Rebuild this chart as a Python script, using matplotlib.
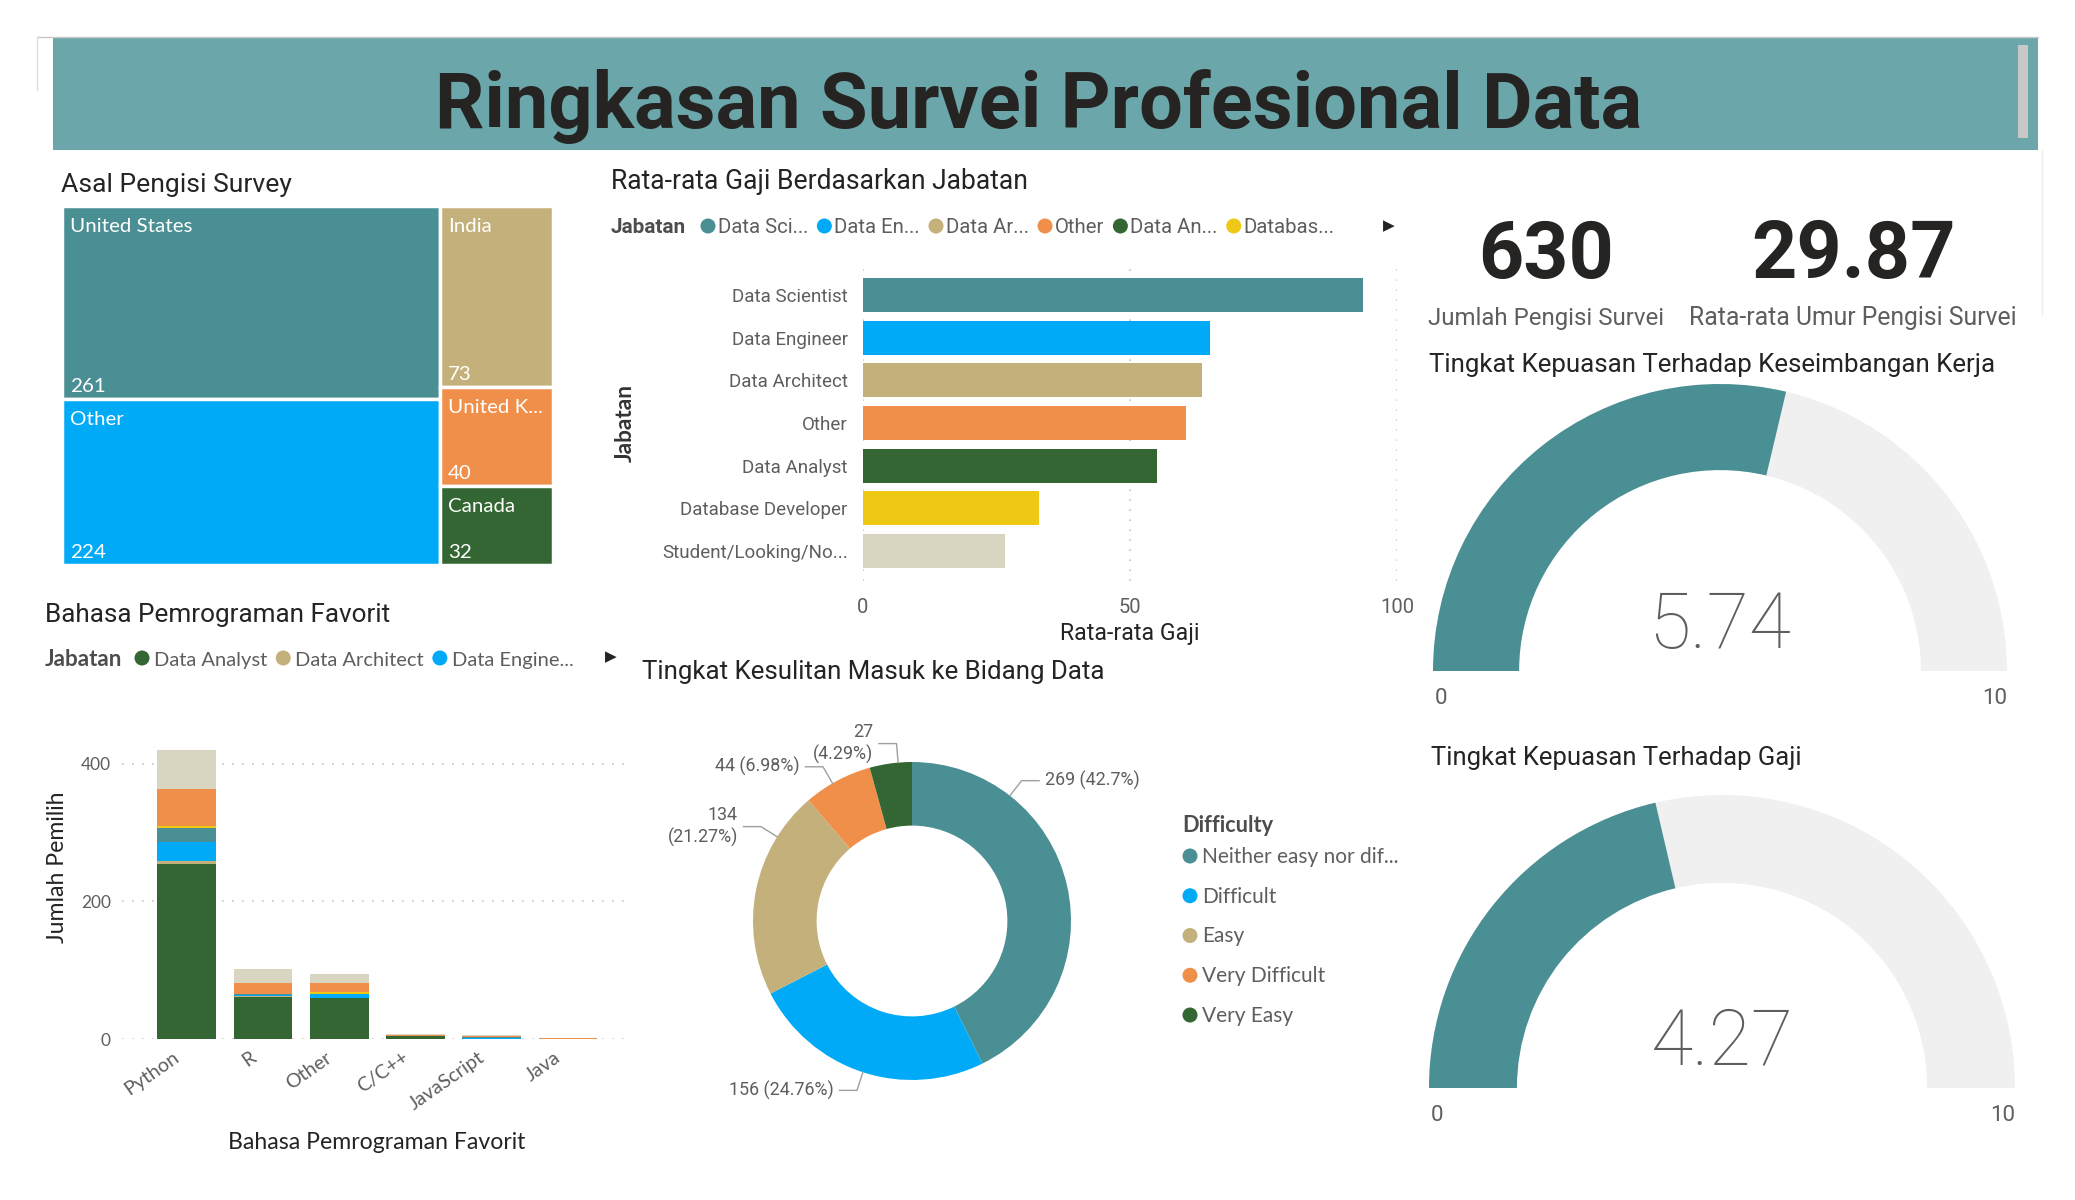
import matplotlib
matplotlib.use("Agg")
import matplotlib.pyplot as plt
from matplotlib.patches import Rectangle, Wedge, Circle
import matplotlib.transforms as mtransforms
import numpy as np

# ---------------- data ----------------
dashboard_title = "Ringkasan Survei Profesional Data"

country_title = "Asal Pengisi Survey"
country_names = ["United States", "Other", "India", "United K...", "Canada"]
country_counts = [261, 224, 73, 40, 32]

salary_title = "Rata-rata Gaji Berdasarkan Jabatan"
job_titles = ["Data Scientist", "Data Engineer", "Data Architect", "Other",
              "Data Analyst", "Database Developer", "Student/Looking/No..."]
avg_salary = [93.6, 64.9, 63.5, 60.4, 55.1, 33.0, 26.5]
salary_legend = ["Data Sci...", "Data En...", "Data Ar...", "Other", "Data An...", "Databas..."]
salary_ticks = [0, 50, 100]

lang_title = "Bahasa Pemrograman Favorit"
languages = ["Python", "R", "Other", "C/C++", "JavaScript", "Java"]
lang_data_analyst = [254, 61, 59, 4, 0, 0]
lang_data_architect = [4, 1, 1, 0, 0, 0]
lang_data_engineer = [28, 2, 5, 0, 2, 0]
lang_data_scientist = [20, 2, 1, 1, 1, 0]
lang_database_dev = [4, 0, 2, 0, 0, 0]
lang_other = [53, 15, 14, 1, 1, 1]
lang_student = [57, 20, 12, 1, 2, 1]
lang_legend = ["Data Analyst", "Data Architect", "Data Engine..."]
lang_ticks = [0, 200, 400]

difficulty_title = "Tingkat Kesulitan Masuk ke Bidang Data"
difficulty_legend = ["Neither easy nor dif...", "Difficult", "Easy", "Very Difficult", "Very Easy"]
difficulty_counts = [269, 156, 134, 44, 27]

respondents = 630
avg_age = 29.87
kpi_labels = ["Jumlah Pengisi Survei", "Rata-rata Umur Pengisi Survei"]

gauge_titles = ["Tingkat Kepuasan Terhadap Keseimbangan Kerja", "Tingkat Kepuasan Terhadap Gaji"]
gauge_values = [5.74, 4.27]
gauge_min, gauge_max = 0, 10

# ---------------- style ----------------
W, H = 2075, 1200
DIN = ['Liberation Sans Narrow', 'Roboto', 'DejaVu Sans']
SEG = ['Lato', 'Noto Sans', 'DejaVu Sans']
DARK = '#252423'
GRAY = '#605e5c'
LEGT = '#4d4d4d'
GRID = '#c8c6c4'
TEAL = '#4a8f93'
BLUE = '#01aaf7'
TAN = '#c4b07b'
ORANGE = '#f08f4a'
GREEN = '#336633'
YELLOW = '#efc815'
BEIGE = '#d8d6c0'

plt.rcParams['font.family'] = SEG
fig = plt.figure(figsize=(W / 100, H / 100), dpi=100)
fig.patch.set_facecolor('white')
REND = fig.canvas.get_renderer()


def axpx(x0, y0, x1, y1):
    return fig.add_axes([x0 / W, 1 - y1 / H, (x1 - x0) / W, (y1 - y0) / H])


def size_for(s, fam, w, weight='normal'):
    t = fig.text(0, 0, s, fontsize=20, family=fam, weight=weight)
    bw = t.get_window_extent(REND).width
    t.remove()
    return 20 * w / bw


def txt(x, y, s, fam=DIN, w=None, size=12, weight='normal', color=DARK,
        ha='left', va='baseline', scale=1.0, **kw):
    if w is not None:
        size = size_for(s, fam, w, weight) * scale
    return fig.text(x / W, 1 - y / H, s, family=fam, fontsize=size, weight=weight,
                    color=color, ha=ha, va=va, **kw)


# background overlay (pixel coordinates)
bg = axpx(0, 0, W, H)
bg.set_xlim(0, W)
bg.set_ylim(H, 0)
bg.axis('off')
bg.add_patch(Rectangle((53, 37), 1985, 113, facecolor='#6aa6aa', lw=0))
bg.plot([37, 2038], [37, 37], color='#c8c8c8', lw=1)
bg.plot([37, 37], [37, 90], color='#dddddd', lw=1)
bg.add_patch(Rectangle((2018, 45), 10, 93, facecolor='#c8c8c8', lw=0))
bg.plot([2042, 2042], [150, 315], color='#eeeeee', lw=1)

txt(1039, 128, dashboard_title, DIN, w=1204, weight='bold', ha='center', scale=1.0)

# ---------------- treemap ----------------
txt(61, 192, country_title, DIN, w=230)
tm_colors = [TEAL, BLUE, TAN, ORANGE, GREEN]
tm_columns = [[0, 1], [2, 3, 4]]
ax = axpx(62, 206, 553, 565)
ax.set_xlim(0, 1)
ax.set_ylim(1, 0)
ax.axis('off')
tm_size = size_for("United States", SEG, 122)
total = sum(country_counts)
x0 = 0.0
for col in tm_columns:
    colsum = sum(country_counts[i] for i in col)
    cw = colsum / total
    y0 = 0.0
    for i in col:
        h = country_counts[i] / colsum
        ax.add_patch(Rectangle((x0, y0), cw, h, facecolor=tm_colors[i],
                               edgecolor='white', lw=2.5))
        ax.annotate(country_names[i], (x0, y0), xytext=(8, -26), textcoords='offset pixels',
                    ha='left', va='baseline', color='white', fontsize=tm_size, family=SEG)
        ax.annotate(str(country_counts[i]), (x0, y0 + h), xytext=(8, 7), textcoords='offset pixels',
                    ha='left', va='baseline', color='white', fontsize=tm_size, family=SEG)
        y0 += h
    x0 += cw

# ---------------- salary bar chart ----------------
job_colors = [TEAL, BLUE, TAN, ORANGE, GREEN, YELLOW, BEIGE]
txt(611, 189, salary_title, DIN, w=417)
txt(611, 233, "Jabatan", DIN, w=75, weight='bold', color=LEGT)
leg_size = size_for("Data Sci...", DIN, 91)
xc = 701
for lab, c in zip(salary_legend, job_colors):
    bg.add_patch(Circle((xc + 7, 226), 7.5, facecolor=c, lw=0))
    t = txt(xc + 17, 233, lab, DIN, size=leg_size, color=GRAY)
    xc = t.get_window_extent(REND).x1 + 9
txt(1389, 226, "\u25B6", ['DejaVu Sans'], size=11, ha='center', va='center', color=DARK)

ax = axpx(863, 265, 1397, 581)
yy = np.arange(len(job_titles))
ax.barh(yy, avg_salary, height=0.8, color=job_colors, zorder=2)
ax.set_ylim(len(job_titles) - 1 + 0.7, -0.7)
ax.set_xlim(0, 100)
ax.set_xticks(salary_ticks)
ax.set_yticks(yy, job_titles)
for s in ax.spines.values():
    s.set_visible(False)
ax.grid(axis='x', linestyle=(0, (1, 5)), color=GRID, lw=1.2, zorder=0)
ax.grid(axis='y', visible=False)
ytick_size = size_for("Database Developer", DIN, 167)
xtick_size = size_for("100", DIN, 34)
ax.tick_params(axis='y', length=0, pad=11, labelsize=ytick_size, labelcolor=GRAY)
ax.tick_params(axis='x', length=0, pad=12, labelsize=xtick_size, labelcolor=GRAY)
for lbl in ax.get_xticklabels() + ax.get_yticklabels():
    lbl.set_family(DIN)
txt(1130, 640, "Rata-rata Gaji", DIN, w=139, ha='center')
txt(625, 423, "Jabatan", SEG, w=78, weight='bold', rotation=90, ha='center', va='center', color='#333333')

# ---------------- language stacked bar ----------------
txt(45, 622, lang_title, DIN, w=345)
txt(45, 666, "Jabatan", SEG, w=77, weight='bold', color=LEGT)
leg2_size = size_for("Data Analyst", SEG, 114)
leg2_colors = [GREEN, TAN, BLUE]
xc = 135
for lab, c in zip(lang_legend, leg2_colors):
    bg.add_patch(Circle((xc + 7, 658), 7.5, facecolor=c, lw=0))
    t = txt(xc + 19, 666, lab, SEG, size=leg2_size, color=GRAY)
    xc = t.get_window_extent(REND).x1 + 9
txt(611, 657, "\u25B6", ['DejaVu Sans'], size=11, ha='center', va='center', color=DARK)

ax = axpx(122, 736, 629, 1039)
xs = np.arange(len(languages))
series = [lang_data_analyst, lang_data_architect, lang_data_engineer, lang_data_scientist,
          lang_database_dev, lang_other, lang_student]
series_colors = [GREEN, TAN, BLUE, TEAL, YELLOW, ORANGE, BEIGE]
bottom = np.zeros(len(languages))
for vals, c in zip(series, series_colors):
    v = np.array(vals, dtype=float)
    ax.bar(xs, v, 0.77, bottom=bottom, color=c, zorder=2, lw=0)
    bottom += v
ax.set_xlim(-0.85, 5.8)
ax.set_ylim(0, 440)
ax.set_yticks(lang_ticks)
ax.set_xticks(xs, languages, rotation=35, ha='right', rotation_mode='anchor')
for s in ax.spines.values():
    s.set_visible(False)
ax.grid(axis='y', linestyle=(0, (1, 5)), color=GRID, lw=1.2, zorder=0)
ax.grid(axis='x', visible=False)
ax.tick_params(axis='y', length=0, pad=8, labelsize=size_for("400", SEG, 30), labelcolor=GRAY)
ax.tick_params(axis='x', length=0, pad=7, labelsize=size_for("JavaScript", SEG, 88), labelcolor=GRAY)
shift = mtransforms.ScaledTranslation(-14 / 100, 0, fig.dpi_scale_trans)
for lbl in ax.get_xticklabels():
    lbl.set_transform(lbl.get_transform() + shift)
for lbl in ax.get_xticklabels() + ax.get_yticklabels():
    lbl.set_family(SEG)
txt(58, 867, "Jumlah Pemilih", SEG, w=152, rotation=90, ha='center', va='center')
txt(377, 1149, lang_title, SEG, w=296, ha='center')

# ---------------- donut ----------------
txt(642, 679, difficulty_title, DIN, w=463)
don_colors = [TEAL, BLUE, TAN, ORANGE, GREEN]
cx, cy, Rd = 912, 921, 159
ax = axpx(cx - Rd, cy - Rd, cx + Rd, cy + Rd)
ax.pie(difficulty_counts, colors=don_colors, startangle=90, counterclock=False,
       wedgeprops=dict(width=0.4, linewidth=0))
ax.set_xlim(-1, 1)
ax.set_ylim(-1, 1)
label_angles = [52, -108, 148, 120, 95]
label_breaks = [False, False, True, False, True]
dl_size = size_for("269 (42.7%)", DIN, 95)
tot = sum(difficulty_counts)
for cnt, ang, brk in zip(difficulty_counts, label_angles, label_breaks):
    pct = f"{100 * cnt / tot:.2f}".rstrip('0').rstrip('.')
    s = f"{cnt}\n({pct}%)" if brk else f"{cnt} ({pct}%)"
    a = np.deg2rad(ang)
    d = np.array([np.cos(a), np.sin(a)])
    p0 = d * 1.0
    p1 = d * 1.12
    sg = 1 if d[0] >= 0 else -1
    p2 = p1 + np.array([sg * 0.11, 0])
    ax.plot([p0[0], p1[0], p2[0]], [p0[1], p1[1], p2[1]], color='#a19f9d', lw=1, clip_on=False)
    ha = 'left' if sg > 0 else 'right'
    ax.text(p2[0] + sg * 0.035, p2[1], s, ha=ha, va='center', multialignment=ha,
            fontsize=dl_size, family=DIN, color=GRAY, clip_on=False, linespacing=1.25)

txt(1182, 832, "Difficulty", SEG, w=91, weight='bold', color=LEGT)
dleg_size = size_for("Neither easy nor dif...", SEG, 197)
for i, (lab, c) in enumerate(zip(difficulty_legend, don_colors)):
    yc = 856 + i * 39.75
    bg.add_patch(Circle((1190, yc), 7.5, facecolor=c, lw=0))
    txt(1202, yc + 7, lab, SEG, size=dleg_size, color=GRAY)

# ---------------- KPI cards ----------------
txt(1546, 278, f"{respondents}", DIN, w=128, weight='bold', ha='center', scale=1.06)
txt(1853, 278, f"{avg_age:.2f}", DIN, w=193, weight='bold', ha='center', scale=1.06)
txt(1546, 325, kpi_labels[0], DIN, w=236, ha='center', color=GRAY)
txt(1853, 325, kpi_labels[1], DIN, w=328, ha='center', color=GRAY)

# ---------------- gauges ----------------
gauge_geo = [(1720, 671, 287, 1429, 372), (1722, 1088, 293, 1431, 765)]
gauge_title_w = [566, 370]
val_size = size_for("5.74", DIN, 130, weight='light') * 1.1
end_size = size_for("10", DIN, 25)
for (gx, gy, gr, tx, ty), title, tw, val in zip(gauge_geo, gauge_titles, gauge_title_w, gauge_values):
    txt(tx, ty, title, DIN, w=tw)
    ax = axpx(gx - gr, gy - gr, gx + gr, gy)
    ax.set_xlim(-1, 1)
    ax.set_ylim(0, 1)
    ax.axis('off')
    frac = (val - gauge_min) / (gauge_max - gauge_min)
    ax.add_patch(Wedge((0, 0), 1, 0, 180, width=0.3, facecolor='#f0f0f0', lw=0))
    ax.add_patch(Wedge((0, 0), 1, 180 - 180 * frac, 180, width=0.3, facecolor=TEAL, lw=0))
    ax.text(0, 0.08, f"{val:.2f}", ha='center', va='baseline', fontsize=val_size,
            family=DIN, weight='light', color=GRAY)
    txt(gx - gr + 2, gy + 33, f"{gauge_min}", DIN, size=end_size, color=GRAY)
    txt(gx + gr, gy + 33, f"{gauge_max}", DIN, size=end_size, color=GRAY, ha='right')

fig.savefig("out.png", dpi=100, facecolor='white')
